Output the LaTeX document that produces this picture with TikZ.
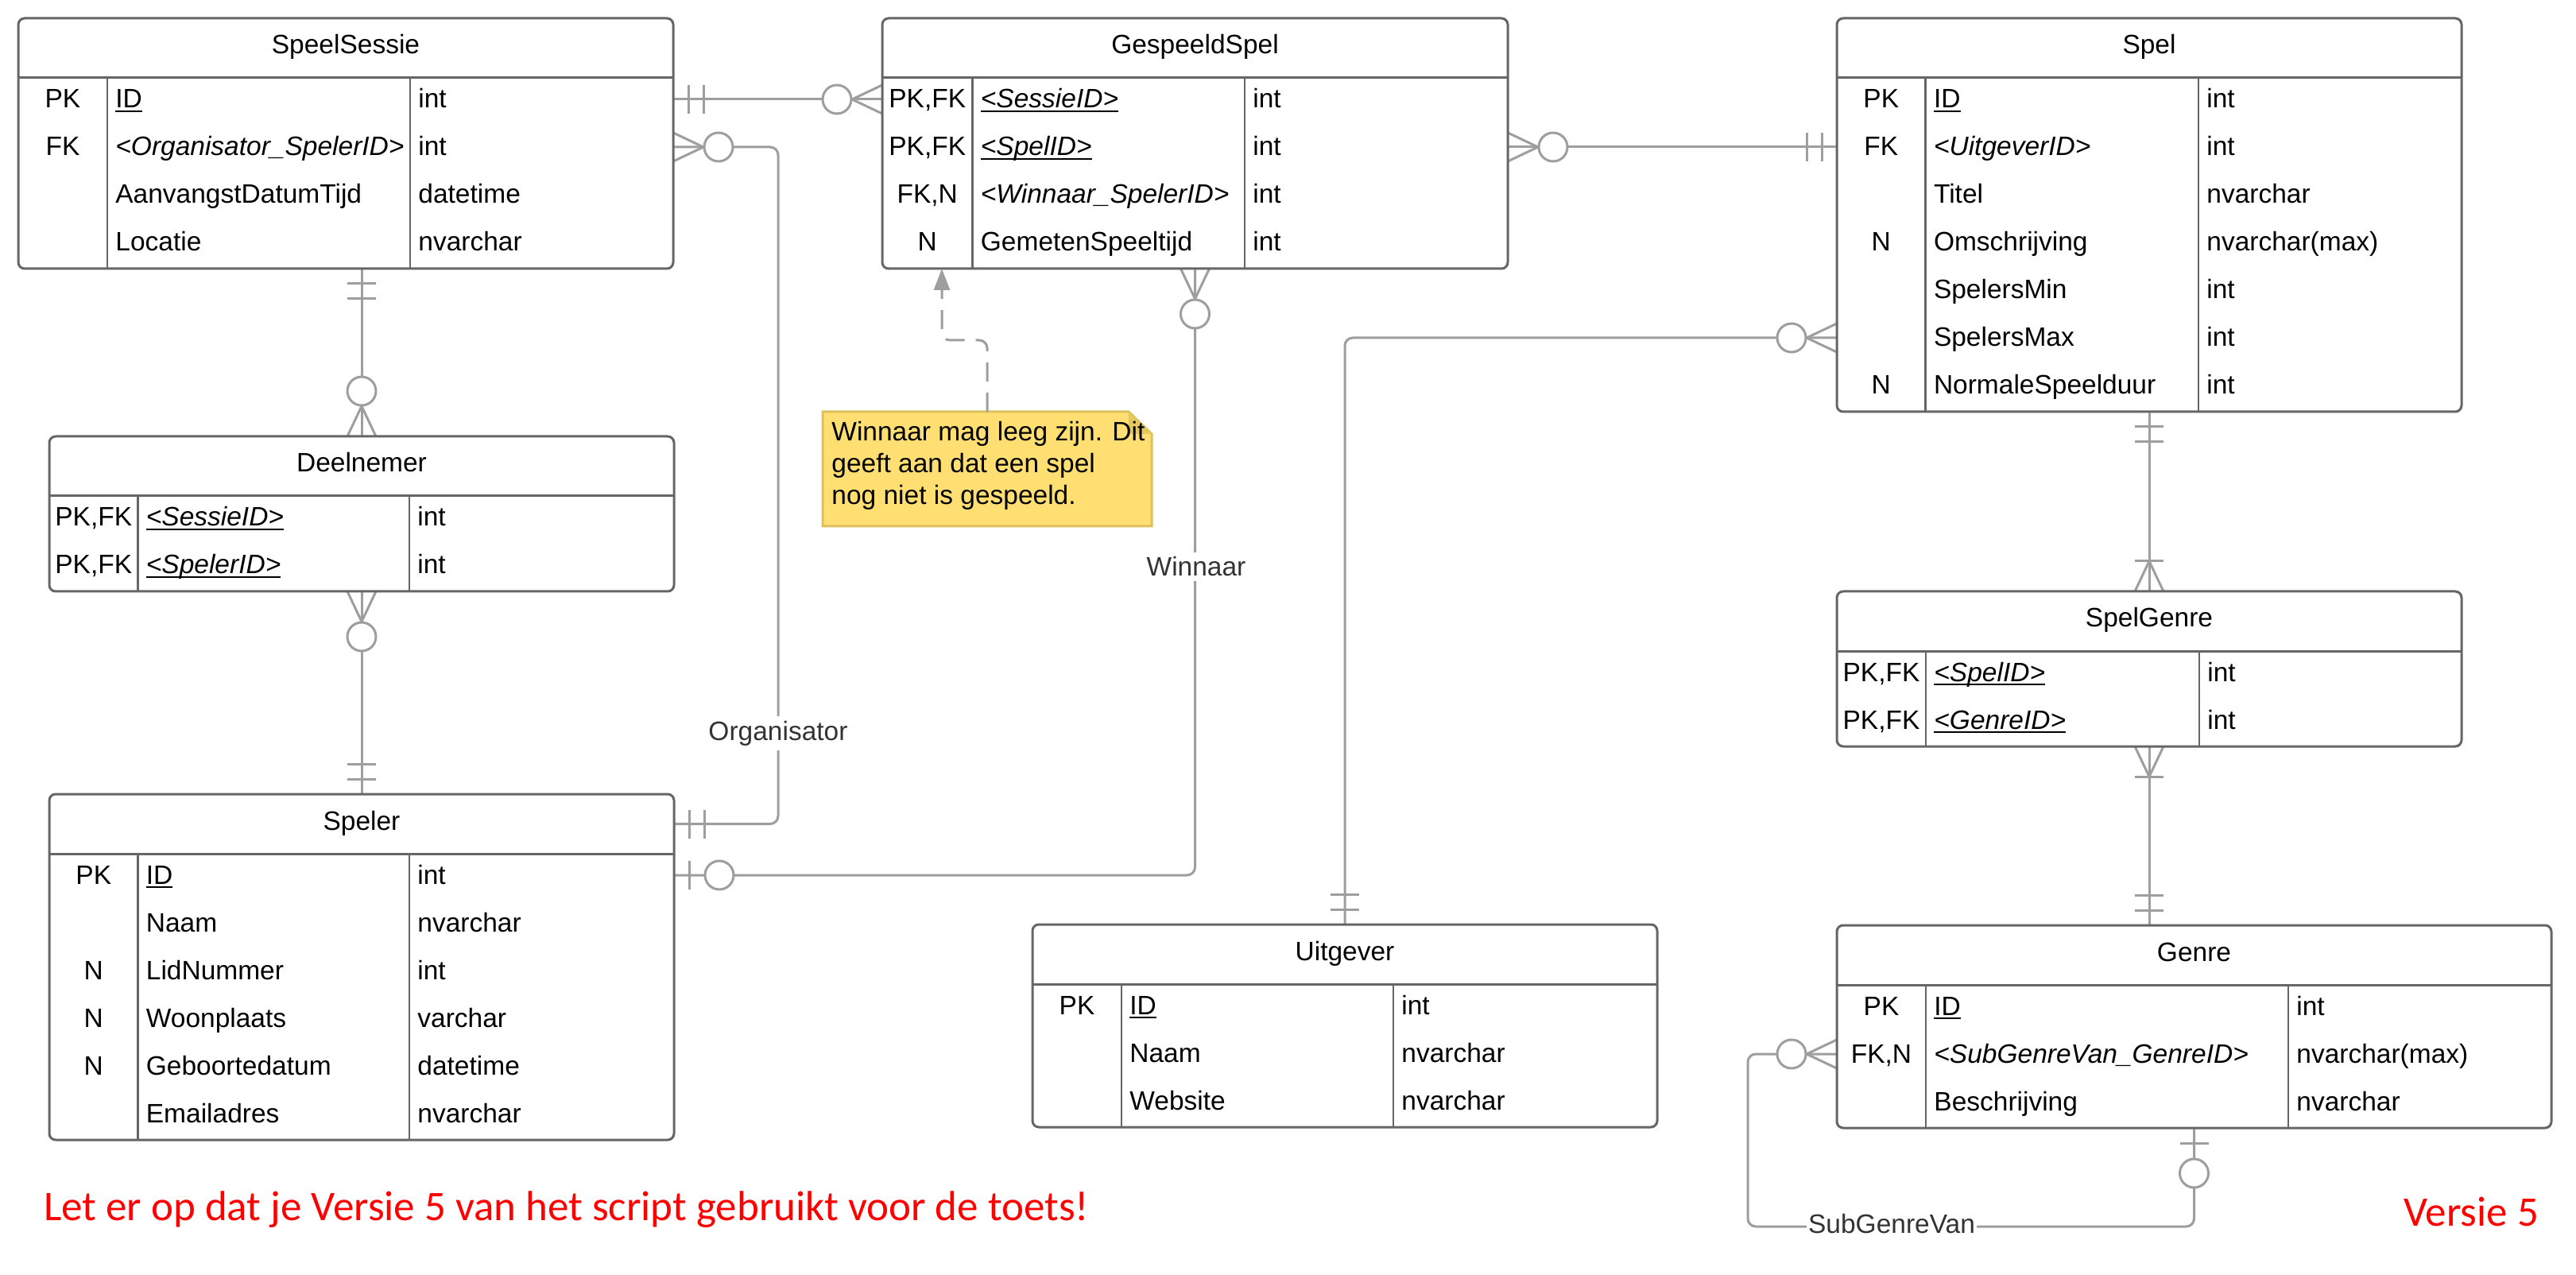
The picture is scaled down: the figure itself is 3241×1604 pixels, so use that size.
\documentclass[tikz,border=0pt]{standalone}
\usepackage{fontspec}
\setmainfont{Liberation Sans}
\newfontfamily\carlito{Carlito}
\usetikzlibrary{calc,arrows.meta}
\pgfdeclarelayer{bg}
\pgfsetlayers{bg,main}
\definecolor{tblborder}{HTML}{666666}
\definecolor{connc}{HTML}{9E9E9E}
\definecolor{lblc}{HTML}{333333}
\definecolor{notefill}{HTML}{FFDF71}
\definecolor{notedraw}{HTML}{DCC15C}
\definecolor{notefold}{HTML}{E6C85E}
\definecolor{warnred}{HTML}{FF0000}
\newcommand\erfont{\fontsize{16.75}{20}\selectfont}
\newcommand\erul[1]{\setbox0\hbox{#1}\rlap{\rule[-2.5pt]{\wd0}{1pt}}\box0}
\tikzset{
  x=0.5pt, y=-0.5pt,
  tblbox/.style={draw=tblborder, line width=1.5pt, rounded corners=4pt, fill=white, inner sep=0pt, outer sep=0pt, anchor=north west},
  tblrule/.style={draw=tblborder, line width=1.5pt},
  tblcol/.style={draw=tblborder, line width=1.2pt},
  ertitle/.style={font=\erfont, inner sep=0pt, anchor=base},
  erkey/.style={font=\erfont, inner sep=0pt, anchor=base},
  ername/.style={font=\erfont, inner sep=0pt, anchor=base west},
  ertype/.style={font=\erfont, inner sep=0pt, anchor=base west},
  conn/.style={draw=connc, line width=1.5pt, line join=round},
  connlbl/.style={font=\erfont, text=lblc, fill=white, inner sep=3pt, anchor=base},
  notebox/.style={inner sep=0pt, outer sep=0pt, minimum width=207pt, minimum height=72pt, anchor=north west},
  notetext/.style={font=\erfont, align=left, inner sep=0pt, anchor=north west},
  notearrow/.style={draw=connc, line width=1.5pt, dash pattern=on 12pt off 7pt, rounded corners=5pt, -{Triangle[length=13.5pt,width=10pt]}},
  warntext/.style={font=\carlito\fontsize{26.5}{30}\selectfont, text=warnred, inner sep=0pt, anchor=base west}
}
% table: id, L, T, R, C1, C2, nrows, title
\newcommand\ertable[8]{%
  \xdef\tId{#1}\xdef\tL{#2}\xdef\tT{#3}\xdef\tR{#4}\xdef\tA{#5}\xdef\tB{#6}%
  \node[tblbox, minimum width={(#4-#2)*0.5pt}, minimum height={(75+60*#7)*0.5pt}] (#1) at (#2,#3) {};
  \draw[tblrule] (#2,{#3+75}) -- (#4,{#3+75});
  \draw[tblcol] (#5,{#3+75}) -- (#5,{#3+75+60*#7});
  \draw[tblcol] (#6,{#3+75}) -- (#6,{#3+75+60*#7});
  \node[ertitle] (#1-title) at ({(#2+#4)/2},{#3+45}) {#8};
  \coordinate (#1-hw) at (#2,{#3+37.5});
  \coordinate (#1-he) at (#4,{#3+37.5});
}
% row: index, key, name, type
\newcommand\errow[4]{%
  \node[erkey] (\tId-k#1) at ({(\tL+\tA)/2},{\tT+113+60*#1}) {#2};
  \node[ername] (\tId-n#1) at ({\tA+10},{\tT+113+60*#1}) {#3};
  \node[ertype] (\tId-t#1) at ({\tB+10},{\tT+113+60*#1}) {#4};
  \coordinate (\tId-w#1) at (\tL,{\tT+102+60*#1});
  \coordinate (\tId-e#1) at (\tR,{\tT+102+60*#1});
}
% markers: point, dx, dy (direction away from table) [, distance]
\newcommand\mkbar[4]{\draw[conn] ($(#1)+({#4*(#2)+18*(#3)},{#4*(#3)+18*(#2)})$) -- ($(#1)+({#4*(#2)-18*(#3)},{#4*(#3)-18*(#2)})$);}
\newcommand\mkcirc[4]{\draw[conn, fill=white] ($(#1)+({#4*(#2)},{#4*(#3)})$) circle[radius=9pt];}
\newcommand\mkcrow[3]{\draw[conn] ($(#1)+({18*(#3)},{18*(#2)})$) -- ($(#1)+({38*(#2)},{38*(#3)})$) -- ($(#1)+({-18*(#3)},{-18*(#2)})$);}
\newcommand\mkone[3]{\mkbar{#1}{#2}{#3}{19}\mkbar{#1}{#2}{#3}{38}}
\newcommand\mkzeromany[3]{\mkcrow{#1}{#2}{#3}\mkcirc{#1}{#2}{#3}{57}}
\newcommand\mkonemany[3]{\mkcrow{#1}{#2}{#3}\mkbar{#1}{#2}{#3}{38}}
\newcommand\mkzeroone[3]{\mkbar{#1}{#2}{#3}{19}\mkcirc{#1}{#2}{#3}{57}}
\begin{document}
\begin{tikzpicture}
\useasboundingbox (0,0) rectangle (3241,1604);
\begin{pgfonlayer}{bg}
\fill[white] (0,0) rectangle (3241,1604);
\end{pgfonlayer}

% ---------- tables ----------
\ertable{ss}{23}{23}{847}{135}{516}{4}{SpeelSessie}
\errow{0}{PK}{\erul{ID}}{int}
\errow{1}{FK}{\textit{<Organisator\_SpelerID>}}{int}
\errow{2}{}{AanvangstDatumTijd}{datetime}
\errow{3}{}{Locatie}{nvarchar}

\ertable{gs}{1110}{23}{1897}{1223.5}{1566}{4}{GespeeldSpel}
\errow{0}{PK,FK}{\erul{\textit{<SessieID>}}}{int}
\errow{1}{PK,FK}{\erul{\textit{<SpelID>}}}{int}
\errow{2}{FK,N}{\textit{<Winnaar\_SpelerID>}}{int}
\errow{3}{N}{GemetenSpeeltijd}{int}

\ertable{sp}{2311}{23}{3097}{2422.6}{2766}{7}{Spel}
\errow{0}{PK}{\erul{ID}}{int}
\errow{1}{FK}{\textit{<UitgeverID>}}{int}
\errow{2}{}{Titel}{nvarchar}
\errow{3}{N}{Omschrijving}{nvarchar(max)}
\errow{4}{}{SpelersMin}{int}
\errow{5}{}{SpelersMax}{int}
\errow{6}{N}{NormaleSpeelduur}{int}

\ertable{dn}{62}{549}{848}{173.5}{515}{2}{Deelnemer}
\errow{0}{PK,FK}{\erul{\textit{<SessieID>}}}{int}
\errow{1}{PK,FK}{\erul{\textit{<SpelerID>}}}{int}

\ertable{spr}{62}{999}{848}{173.5}{515}{6}{Speler}
\errow{0}{PK}{\erul{ID}}{int}
\errow{1}{}{Naam}{nvarchar}
\errow{2}{N}{LidNummer}{int}
\errow{3}{N}{Woonplaats}{varchar}
\errow{4}{N}{Geboortedatum}{datetime}
\errow{5}{}{Emailadres}{nvarchar}

\ertable{ug}{1299}{1163}{2085}{1411}{1753}{3}{Uitgever}
\errow{0}{PK}{\erul{ID}}{int}
\errow{1}{}{Naam}{nvarchar}
\errow{2}{}{Website}{nvarchar}

\ertable{sg}{2311}{744}{3097}{2423}{2767}{2}{SpelGenre}
\errow{0}{PK,FK}{\erul{\textit{<SpelID>}}}{int}
\errow{1}{PK,FK}{\erul{\textit{<GenreID>}}}{int}

\ertable{gn}{2311}{1164}{3210}{2423}{2879}{3}{Genre}
\errow{0}{PK}{\erul{ID}}{int}
\errow{1}{FK,N}{\textit{<SubGenreVan\_GenreID>}}{nvarchar(max)}
\errow{2}{}{Beschrijving}{nvarchar}

\coordinate (ssDn) at (dn.north |- ss.south);
\coordinate (gnTop) at (sg.south |- gn.north);
\coordinate (gsNote) at ($(gs.south west)+(75,0)$);

% ---------- connectors ----------
\begin{pgfonlayer}{bg}
\draw[conn] (ss-e0) -- (gs-w0);
\mkone{ss-e0}{1}{0}
\mkzeromany{gs-w0}{-1}{0}

\draw[conn, rounded corners=5pt] (ss-e1) -- ($(ss-e1)+(132,0)$) |- (spr-he);
\mkzeromany{ss-e1}{1}{0}
\mkone{spr-he}{1}{0}
\node[connlbl] (lblOrg) at (979,931) {Organisator};

\draw[conn] (gs-e1) -- (sp-w1);
\mkzeromany{gs-e1}{1}{0}
\mkone{sp-w1}{-1}{0}

\draw[conn, rounded corners=5pt] (gs.south) |- (spr-e0);
\mkzeromany{gs.south}{0}{1}
\mkzeroone{spr-e0}{1}{0}
\node[connlbl] (lblWin) at (1505,725) {Winnaar};

\draw[conn, rounded corners=5pt] (sp-w5) -| (ug.north);
\mkzeromany{sp-w5}{-1}{0}
\mkone{ug.north}{0}{-1}

\draw[conn] (sp.south) -- (sg.north);
\mkone{sp.south}{0}{1}
\mkonemany{sg.north}{0}{-1}

\draw[conn] (sg.south) -- (gnTop);
\mkonemany{sg.south}{0}{1}
\mkone{gnTop}{0}{-1}

\draw[conn, rounded corners=5pt] (gn-w1) -- ($(gn-w1)+(-112,0)$) |- ($(gn.south)+(0,124)$) -- (gn.south);
\mkzeromany{gn-w1}{-1}{0}
\mkzeroone{gn.south}{0}{1}
\node[connlbl, inner sep=1pt] (lblSub) at (2380,1551) {SubGenreVan};

\draw[conn] (ssDn) -- (dn.north);
\mkone{ssDn}{0}{1}
\mkzeromany{dn.north}{0}{-1}

\draw[conn] (dn.south) -- (spr.north);
\mkzeromany{dn.south}{0}{1}
\mkone{spr.north}{0}{-1}
\end{pgfonlayer}

% ---------- note ----------
\node[notebox] (note) at (1035,518) {};
\filldraw[fill=notefill, draw=notedraw, line width=1.5pt] (note.north west) -- ($(note.north east)+(-29,0)$) -- ($(note.north east)+(0,28)$) -- (note.south east) -- (note.south west) -- cycle;
\fill[notefold] ($(note.north east)+(-29,0)$) -- ($(note.north east)+(0,28)$) -- ($(note.north east)+(-29,28)$) -- cycle;
\node[notetext] (notetxt) at (1046,530) {Winnaar mag leeg zijn. Dit\\geeft aan dat een spel\\nog niet is gespeeld.};
\draw[notearrow] (note.north) |- ($(gsNote)+(0,90)$) -- (gsNote);

% ---------- warnings ----------
\node[warntext] (warn) at (55,1535) {Let er op dat je Versie 5 van het script gebruikt voor de toets!};
\node[warntext] (versie) at (3024,1542) {Versie 5};
\end{tikzpicture}
\end{document}
